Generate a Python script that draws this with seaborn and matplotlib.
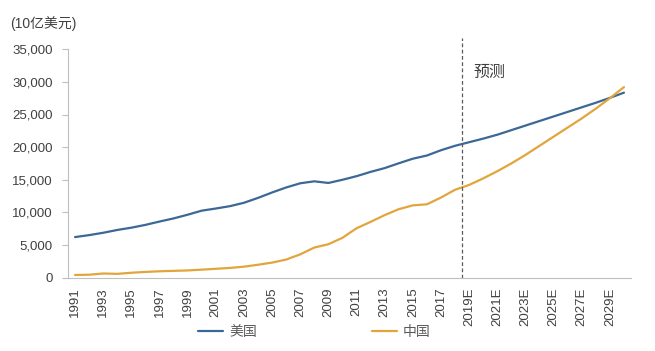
import numpy as np
import pandas as pd
import seaborn as sns
import matplotlib.pyplot as plt
from matplotlib.ticker import FixedLocator, StrMethodFormatter

years = [str(y) for y in range(1991, 2019)] + [f"{y}E" for y in range(2019, 2031)]

us = [6200, 6500, 6860, 7290, 7640, 8070, 8580, 9060, 9630, 10250,
      10580, 10940, 11460, 12210, 13040, 13810, 14450, 14750, 14500, 14990,
      15540, 16200, 16780, 17520, 18220, 18710, 19520, 20200,
      20750, 21300, 21900, 22600, 23300, 24000, 24700, 25400, 26100, 26800, 27550, 28350]

china = [383, 427, 613, 559, 728, 856, 952, 1019, 1083, 1205,
         1333, 1465, 1660, 1955, 2286, 2752, 3550, 4594, 5102, 6087,
         7552, 8532, 9570, 10476, 11062, 11227, 12265, 13457,
         14200, 15200, 16300, 17500, 18800, 20200, 21600, 23000, 24400, 25900, 27500, 29200]

series = ["美国", "中国"]
colors = ["#3B6894", "#E2A53C"]

df = pd.DataFrame({
    "idx": list(range(len(years))) * 2,
    "value": us + china,
    "country": [series[0]] * len(years) + [series[1]] * len(years),
})

sns.set_style("white")
plt.rcParams["font.family"] = ["Liberation Sans", "Noto Sans CJK SC", "DejaVu Sans"]

fig = plt.figure(figsize=(6.55, 3.51), dpi=100)
ax = fig.add_axes([68 / 655, 1 - 277.5 / 351, (631 - 68) / 655, (277.5 - 49.3) / 351])

sns.lineplot(data=df, x="idx", y="value", hue="country", palette=colors,
             linewidth=1.6, ax=ax, legend=False)

ax.set_xlim(-0.5, len(years) - 0.5)
ax.set_ylim(0, 35000)
ax.set_yticks(np.arange(0, 35001, 5000))
ax.yaxis.set_major_formatter(StrMethodFormatter("{x:,.0f}"))

# tick marks between categories, labels every other year
ax.xaxis.set_major_locator(FixedLocator(np.arange(-0.5, len(years), 1)))
ax.xaxis.set_minor_locator(FixedLocator(np.arange(0, len(years), 2)))
ax.set_xticklabels([])
ax.set_xticklabels(years[::2], minor=True, rotation=90)
ax.tick_params(axis="x", which="major", length=4, color="#BFBFBF", width=0.8, direction="out")
ax.tick_params(axis="x", which="minor", length=0, pad=7, labelsize=9.5, labelcolor="#404040")
ax.tick_params(axis="y", length=4, color="#BFBFBF", width=0.8, pad=7, labelsize=9.5,
               labelcolor="#404040", left=True)
ax.set_xlabel("")
ax.set_ylabel("")

for side in ["top", "right"]:
    ax.spines[side].set_visible(False)
for side in ["left", "bottom"]:
    ax.spines[side].set_color("#BFBFBF")
    ax.spines[side].set_linewidth(0.8)

# forecast divider
ax.plot([27.5, 27.5], [0, 36800], color="#595959", linestyle=(0, (3, 2)),
        linewidth=0.9, clip_on=False)
ax.text(28.3, 31400, "预测", fontsize=11.5, color="#404040", va="center", ha="left")

fig.text(10 / 655, 1 - 24 / 351, "(10亿美元)", fontsize=10, color="#404040", va="center", ha="left")

handles = [plt.Line2D([], [], color=c, linewidth=1.6) for c in colors]
fig.legend(handles, series, loc="center", bbox_to_anchor=(0.48, 1 - 332 / 351), ncol=2,
           frameon=False, fontsize=10, handlelength=1.8, handletextpad=0.4,
           columnspacing=8.3, labelcolor="#595959")

fig.savefig("out.png", dpi=100)
